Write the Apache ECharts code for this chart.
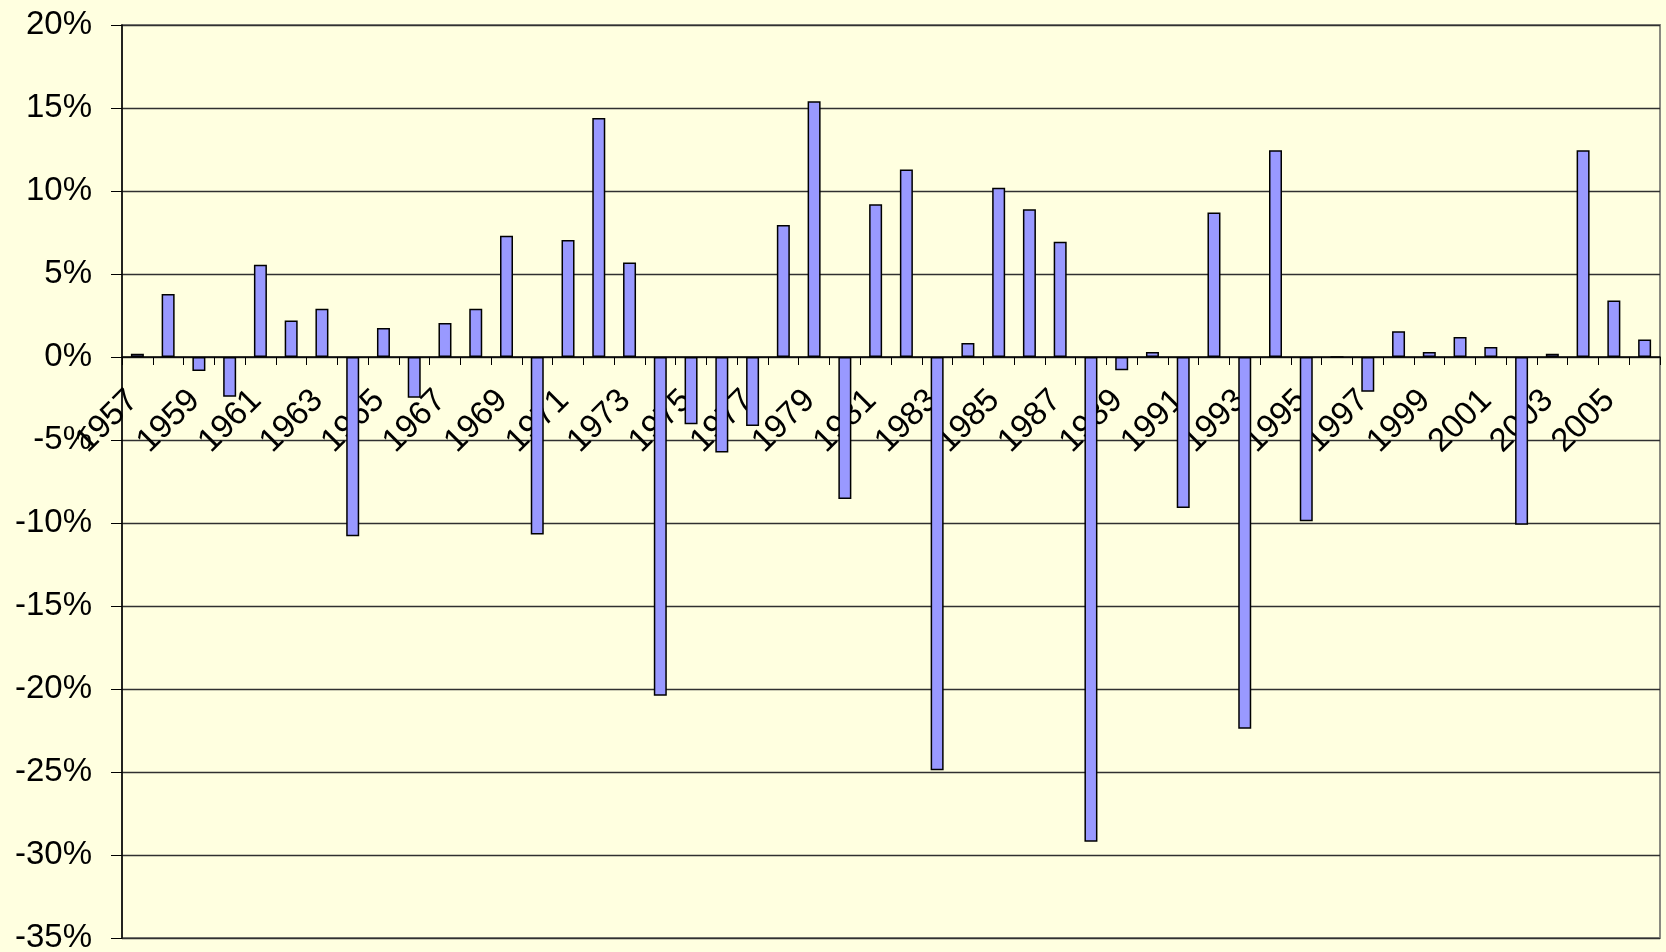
<!DOCTYPE html>
<html>
<head>
<meta charset="utf-8">
<script src="https://cdn.jsdelivr.net/npm/echarts@6/dist/echarts.min.js"></script>
<style>
  html, body { margin: 0; padding: 0; background: #FFFFE0; }
  #chart { width: 1666px; height: 952px; }
</style>
</head>
<body>
<div id="chart"></div>
<script>
// Annual change, 1957–2006 (percent)
const years = [];
for (let y = 1957; y <= 2006; y++) years.push(String(y));

const changes = [
  0.2, 3.8, -0.85, -2.4, 5.55, 2.2, 2.9, -10.8, 1.75, -2.45,
  2.05, 2.9, 7.3, -10.7, 7.05, 14.4, 5.7, -20.4, -4.05, -5.75,
  -4.15, 7.95, 15.4, -8.55, 9.2, 11.3, -24.9, 0.85, 10.2, 8.9,
  6.95, -29.2, -0.8, 0.3, -9.1, 8.7, -22.4, 12.45, -9.9, 0,
  -2.1, 1.55, 0.3, 1.2, 0.6, -10.1, 0.2, 12.45, 3.4, 1.05
];

const yMin = -35, yMax = 20, yStep = 5;

const W = 1666, H = 952;
const gridLeft = 122, gridRight = 6, gridTop = 25, gridBottom = 14;
const plotH = H - gridTop - gridBottom;
// distance from the plot's bottom edge up to the zero line
const zeroLift = plotH * (0 - yMin) / (yMax - yMin);

const font = 'Liberation Sans, Arial, sans-serif';
const chart = echarts.init(document.getElementById('chart'));

chart.setOption({
  backgroundColor: '#FFFFE0',
  animation: false,
  grid: {
    left: gridLeft, right: gridRight, top: gridTop, bottom: gridBottom,
    containLabel: false,
    outerBoundsMode: 'none',
    show: true,
    borderColor: '#8a8a80',
    borderWidth: 2,
    backgroundColor: 'transparent'
  },
  xAxis: {
    type: 'category',
    data: years,
    boundaryGap: true,
    position: 'bottom',
    offset: -zeroLift,
    axisLine: { onZero: false, lineStyle: { color: '#000', width: 1.5 } },
    axisTick: { show: true, interval: 0, length: 8, lineStyle: { color: '#000', width: 1 } },
    axisLabel: {
      interval: 1,
      rotate: 45,
      margin: 34,
      padding: [0, 6, 0, 0],
      fontSize: 33,
      fontFamily: font,
      color: '#000'
    },
    splitLine: { show: false }
  },
  yAxis: {
    type: 'value',
    min: yMin,
    max: yMax,
    interval: yStep,
    axisLine: { show: true, lineStyle: { color: '#000', width: 1.5 } },
    axisTick: { show: true, length: 11, lineStyle: { color: '#000', width: 1 } },
    axisLabel: {
      formatter: '{value}%',
      margin: 30,
      fontSize: 33,
      fontFamily: font,
      color: '#000'
    },
    splitLine: { show: true, lineStyle: { color: '#303030', width: 1.3 } }
  },
  series: [{
    type: 'bar',
    data: changes,
    barWidth: 13,
    itemStyle: {
      color: '#9999FF',
      borderColor: '#000',
      borderWidth: 1.5
    }
  }]
});
</script>
</body>
</html>
